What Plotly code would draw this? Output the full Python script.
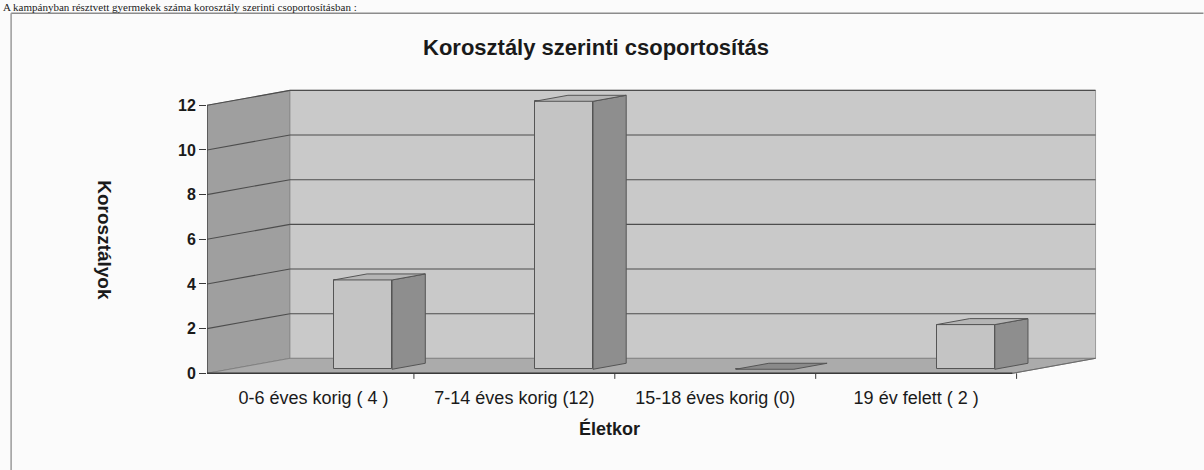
import plotly.graph_objects as go

# ---- data ----
categories = ["0-6 éves korig ( 4 )", "7-14 éves korig (12)", "15-18 éves korig (0)", "19 év felett ( 2 )"]
values = [4, 12, 0, 2]
y_ticks = [0, 2, 4, 6, 8, 10, 12]
title_text = "Korosztály szerinti csoportosítás"
x_title = "Életkor"
y_title = "Korosztályok"
page_text = "A kampányban résztvett gyermekek száma korosztály szerinti csoportosításban :"

# ---- geometry of the pseudo-3D box (category / value units) ----
W, H = 1204, 470
L_PX, PX_PER_CAT = 207, 201.0
PX_PER_UNIT = 22.33
Y0_PX = 373.0
XR = [-0.53, 3.96]
YR = [-0.3, 13.0]
T_PX = Y0_PX - YR[1] * PX_PER_UNIT
B_PX = H - (Y0_PX - YR[0] * PX_PER_UNIT)
R_PX = W - (L_PX + (XR[1] - XR[0]) * PX_PER_CAT)
PLOT_W = W - L_PX - R_PX
PLOT_H = H - T_PX - B_PX

X0, X1 = XR[0], 3.48          # front-left / front-right of floor
DX, DY = 0.413, 0.67          # offset to back wall
YMAX = max(y_ticks)
BX0, BW = -0.01, 0.29         # bar position inside category
TF, TD = 0.27, 0.40           # bar depth start / depth


def P(x, y, t):
    return x + DX * t, y + DY * t


def px_to_paper(px, py):
    return (px - L_PX) / PLOT_W, (H - B_PX - py) / PLOT_H


wall_side = "#9f9f9f"
wall_back = "#c9c9c9"
floor_col = "#ababab"
grid_col = "#4d4d4d"
edge_col = "#3a3a3a"
front_col = "#c4c4c4"
side_col = "#8e8e8e"
top_col = "#b5b5b5"

fig = go.Figure()
shapes = []


def poly(pts, fill, line_col=None, lw=0.8, layer="below"):
    path = "M " + " L ".join(f"{x},{y}" for x, y in pts) + " Z"
    shapes.append(dict(type="path", path=path, xref="x", yref="y", layer=layer,
                       fillcolor=fill, line=dict(color=line_col or fill, width=lw)))


def seg(a, b, col=grid_col, w=1.0, layer="below", xref="x", yref="y"):
    shapes.append(dict(type="line", x0=a[0], y0=a[1], x1=b[0], y1=b[1], xref=xref, yref=yref,
                       layer=layer, line=dict(color=col, width=w)))


# walls and floor
poly([P(X0, 0, 0), P(X0, YMAX, 0), P(X0, YMAX, 1), P(X0, 0, 1)], wall_side, "#7a7a7a")
poly([P(X0, 0, 1), P(X1, 0, 1), P(X1, YMAX, 1), P(X0, YMAX, 1)], wall_back, "#8a8a8a")
poly([P(X0, 0, 0), P(X1, 0, 0), P(X1, 0, 1), P(X0, 0, 1)], floor_col, "#7a7a7a")

# gridlines on side and back walls
for v in y_ticks[1:]:
    seg(P(X0, v, 0), P(X0, v, 1), grid_col, 1.1)
    seg(P(X0, v, 1), P(X1, v, 1), grid_col, 1.1)

# axis edges
seg(P(X0, 0, 0), P(X0, YMAX, 0), edge_col, 1.2)
seg(P(X0, 0, 0), P(X1, 0, 0), edge_col, 1.4)
seg(P(X1, 0, 0), P(X1, 0, 1), "#6a6a6a", 1.0)
for i in range(len(categories)):
    b = i + 0.5
    seg((b, 0), (b, -0.25), edge_col, 1.0)

# bars: front faces via bar trace, side / top faces via polygons from values
bar_front_x = [i + BX0 + DX * TF + BW / 2 for i in range(len(categories))]
base = DY * TF
fig.add_trace(go.Bar(
    x=bar_front_x, y=values, base=[base] * len(values), width=BW,
    marker=dict(color=front_col, line=dict(color="#555555", width=1)),
    hoverinfo="skip", showlegend=False,
))
for i, v in enumerate(values):
    xa, xb = i + BX0, i + BX0 + BW
    t0, t1 = TF, TF + TD
    if v > 0:
        side = [P(xb, 0, t0), P(xb, v, t0), P(xb, v, t1), P(xb, 0, t1)]
        fig.add_trace(go.Scatter(x=[p[0] for p in side] + [side[0][0]], y=[p[1] for p in side] + [side[0][1]],
                                 fill="toself", fillcolor=side_col, mode="lines",
                                 line=dict(color="#555555", width=1), hoverinfo="skip", showlegend=False))
    top = [P(xa, v, t0), P(xb, v, t0), P(xb, v, t1), P(xa, v, t1)]
    fig.add_trace(go.Scatter(x=[p[0] for p in top] + [top[0][0]], y=[p[1] for p in top] + [top[0][1]],
                             fill="toself", fillcolor=top_col if v > 0 else "#8a8a8a", mode="lines",
                             line=dict(color="#555555", width=1), hoverinfo="skip", showlegend=False))

# page frame (scanned document)
fx, fy = px_to_paper(11, 13)
fx2, _ = px_to_paper(1204, 13)
_, fy2 = px_to_paper(11, 470)
seg((fx, fy), (fx2, fy), "#8c8c8c", 1.5, "above", "paper", "paper")
seg((fx, fy), (fx, fy2), "#9a9a9a", 1.5, "above", "paper", "paper")

annotations = []
ax, ay = px_to_paper(105, 240)
annotations.append(dict(text=f"<b>{y_title}</b>", x=ax, y=ay, xref="paper", yref="paper",
                        xanchor="center", yanchor="middle",
                        textangle=90, showarrow=False, font=dict(size=19, color="#1a1a1a")))
tx, ty = px_to_paper(610, 428)
annotations.append(dict(text=f"<b>{x_title}</b>", x=tx, y=ty, xref="paper", yref="paper",
                        xanchor="center", yanchor="middle",
                        showarrow=False, font=dict(size=18, color="#1a1a1a")))
px0, py0 = px_to_paper(2, 0)
annotations.append(dict(text=page_text, x=px0, y=py0, xref="paper", yref="paper",
                        xanchor="left", yanchor="top", showarrow=False, borderpad=0,
                        font=dict(family="Liberation Serif, serif", size=11, color="#222222")))

fig.update_layout(
    width=W, height=H,
    margin=dict(l=L_PX, r=R_PX, t=T_PX, b=B_PX),
    paper_bgcolor="#fbfbfb", plot_bgcolor="rgba(0,0,0,0)",
    font=dict(family="Liberation Sans, Arial, sans-serif", color="#1a1a1a"),
    title=dict(text=f"<b>{title_text}</b>", x=596 / W, y=1 - 47 / H, xanchor="center", yanchor="middle",
               xref="container", yref="container", font=dict(size=22, color="#1a1a1a")),
    xaxis=dict(range=XR, tickvals=list(range(len(categories))), ticktext=categories,
               showgrid=False, zeroline=False, showline=False, ticks="",
               ticklabelstandoff=5, tickfont=dict(size=18, color="#1a1a1a"), fixedrange=True),
    yaxis=dict(range=YR, tickvals=y_ticks, showgrid=False, zeroline=False, showline=False,
               ticks="outside", ticklen=7, tickcolor=edge_col, tickwidth=1.2,
               tickfont=dict(size=16, color="#1a1a1a", weight="bold"), fixedrange=True),
    shapes=shapes, annotations=annotations, bargap=0,
)

fig.write_html("out.html", config={"displayModeBar": False},
               post_script="document.body.style.margin='0';")
